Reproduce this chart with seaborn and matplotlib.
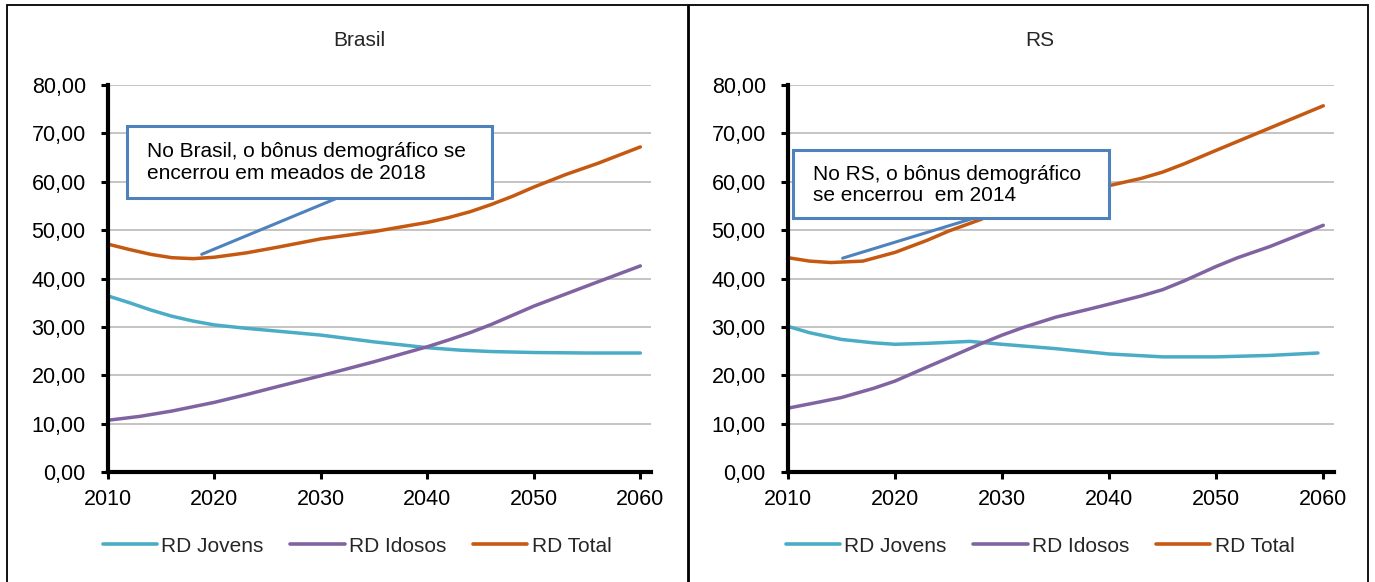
import matplotlib
matplotlib.use('Agg')
import matplotlib.pyplot as plt
from matplotlib.patches import Rectangle
from matplotlib.ticker import FuncFormatter
import seaborn as sns
import pandas as pd

# Brasil
br_years_jov = [2010, 2012, 2014, 2016, 2018, 2020, 2023, 2026, 2030, 2035, 2040, 2043, 2046, 2050, 2055, 2060]
br_jovens = [36.4, 35.0, 33.5, 32.2, 31.2, 30.4, 29.7, 29.1, 28.3, 26.9, 25.7, 25.2, 24.9, 24.7, 24.6, 24.6]
br_years_ido = [2010, 2013, 2016, 2020, 2023, 2026, 2030, 2035, 2040, 2042, 2044, 2046, 2048, 2050, 2053, 2056, 2060]
br_idosos = [10.7, 11.5, 12.6, 14.4, 16.0, 17.7, 19.9, 22.8, 25.9, 27.3, 28.8, 30.5, 32.4, 34.3, 36.8, 39.3, 42.6]
br_years_tot = [2010, 2012, 2014, 2016, 2018, 2020, 2023, 2026, 2030, 2035, 2040, 2042, 2044, 2046, 2048,
                2050, 2053, 2056, 2060]
br_total = [47.1, 46.0, 45.0, 44.3, 44.1, 44.4, 45.3, 46.5, 48.2, 49.7, 51.6, 52.6, 53.8, 55.3, 57.0,
            58.9, 61.5, 63.8, 67.2]

# RS
rs_years_jov = [2010, 2012, 2015, 2018, 2020, 2023, 2027, 2030, 2035, 2040, 2045, 2050, 2055, 2059.5]
rs_jovens = [30.1, 28.8, 27.4, 26.7, 26.4, 26.6, 27.0, 26.4, 25.5, 24.4, 23.8, 23.8, 24.1, 24.6]
rs_years_ido = [2010, 2013, 2015, 2018, 2020, 2023, 2025, 2028, 2030, 2032, 2035, 2038, 2040, 2043, 2045,
                2047, 2050, 2052, 2055, 2060]
rs_idosos = [13.2, 14.5, 15.4, 17.3, 18.8, 21.7, 23.6, 26.5, 28.3, 29.9, 32.0, 33.6, 34.7, 36.4, 37.7,
             39.5, 42.5, 44.3, 46.6, 51.0]
rs_years_tot = [2010, 2012, 2014, 2017, 2020, 2023, 2025, 2028, 2030, 2035, 2040, 2043, 2045, 2047, 2050,
                2055, 2060]
rs_total = [44.3, 43.6, 43.3, 43.6, 45.4, 47.9, 49.8, 52.2, 54.3, 57.2, 59.2, 60.7, 62.0, 63.7, 66.5,
            71.1, 75.7]

series = ['RD Jovens', 'RD Idosos', 'RD Total']
colors = ['#4BACC6', '#8064A2', '#C65911']

titles = ['Brasil', 'RS']
notes = ['No Brasil, o bônus demográfico se\nencerrou em meados de 2018',
         'No RS, o bônus demográfico\nse encerrou  em 2014']


def long_df(yj, vj, yi, vi, yt, vt):
    parts = []
    for name, xs, vs in zip(series, [yj, yi, yt], [vj, vi, vt]):
        parts.append(pd.DataFrame({'ano': xs, 'valor': vs, 'serie': name}))
    return pd.concat(parts, ignore_index=True)


data = [long_df(br_years_jov, br_jovens, br_years_ido, br_idosos, br_years_tot, br_total),
        long_df(rs_years_jov, rs_jovens, rs_years_ido, rs_idosos, rs_years_tot, rs_total)]

sns.set_style('white')
plt.rcParams['font.family'] = ['Liberation Sans', 'DejaVu Sans']

fig = plt.figure(figsize=(13.75, 5.82), dpi=100)

# panel frames
fig.patches.append(Rectangle((7 / 1375, -0.01), 681 / 1375, 1 - 5 / 582 + 0.01, transform=fig.transFigure,
                             fill=False, edgecolor='black', linewidth=1.3))
fig.patches.append(Rectangle((689 / 1375, -0.01), 679 / 1375, 1 - 5 / 582 + 0.01, transform=fig.transFigure,
                             fill=False, edgecolor='black', linewidth=1.3))

ax_pos = [[108 / 1375, 110 / 582, 543 / 1375, 387 / 582],
          [788 / 1375, 110 / 582, 546 / 1375, 387 / 582]]
title_x = [359 / 1375, 1040 / 1375]
legend_x = [357 / 1375, 1040 / 1375]

# annotation boxes (data coords)
boxes = [dict(x0=2011.8, x1=2046.1, y0=56.6, y1=71.5, tx=2013.7, ty=64.0,
              l0=(2018.8, 45.0), l1=(2031.5, 56.6)),
         dict(x0=2010.5, x1=2040.0, y0=52.5, y1=66.5, tx=2012.3, ty=59.3,
              l0=(2015.1, 44.2), l1=(2027.4, 52.5))]

for i in range(2):
    ax = fig.add_axes(ax_pos[i])
    sns.lineplot(data=data[i], x='ano', y='valor', hue='serie', hue_order=series,
                 palette=colors, linewidth=2.5, ax=ax, legend=False, sort=True, estimator=None)
    ax.set_xlim(2010, 2061)
    ax.set_ylim(0, 80)
    ax.set_xticks(range(2010, 2061, 10))
    ax.set_yticks(range(0, 81, 10))
    ax.yaxis.set_major_formatter(FuncFormatter(lambda v, p: f'{v:.2f}'.replace('.', ',')))
    ax.set_xlabel('')
    ax.set_ylabel('')
    ax.grid(axis='y', color='#bfbfbf', linewidth=1.3)
    ax.set_axisbelow(True)
    for s in ['top', 'right']:
        ax.spines[s].set_visible(False)
    for s in ['left', 'bottom']:
        ax.spines[s].set_color('black')
        ax.spines[s].set_linewidth(3)
    ax.tick_params(axis='both', direction='out', length=5, width=2.2, color='black',
                   labelsize=15.5, labelcolor='black')
    ax.tick_params(axis='y', pad=11)
    ax.tick_params(axis='x', pad=7)
    ax.tick_params(axis='both', which='both', left=True, bottom=True)

    b = boxes[i]
    ax.plot([b['l0'][0], b['l1'][0]], [b['l0'][1], b['l1'][1]], color='#4F81BD', linewidth=2.2, zorder=4)
    ax.add_patch(Rectangle((b['x0'], b['y0']), b['x1'] - b['x0'], b['y1'] - b['y0'],
                           facecolor='white', edgecolor='#4F81BD', linewidth=2.2, zorder=5))
    ax.text(b['tx'], b['ty'], notes[i], fontsize=15, va='center', ha='left',
            linespacing=1.15, zorder=6, color='black')

    fig.text(title_x[i], 1 - 40 / 582, titles[i], fontsize=15, ha='center', va='center')

    handles = [plt.Line2D([], [], color=c, linewidth=2.6) for c in colors]
    fig.legend(handles, series, loc='center', bbox_to_anchor=(legend_x[i], 1 - 546 / 582),
               ncol=3, frameon=False, fontsize=15, handlelength=2.6, handletextpad=0.2,
               columnspacing=1.3)

fig.savefig('out.png', dpi=100)
